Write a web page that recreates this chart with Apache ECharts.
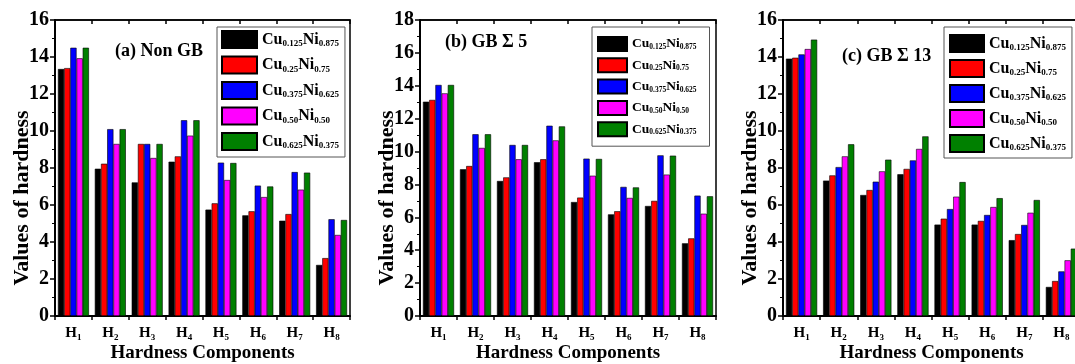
<!DOCTYPE html>
<html>
<head>
<meta charset="utf-8">
<script src="https://cdn.jsdelivr.net/npm/echarts@6/dist/echarts.min.js"></script>
<style>
  html, body { margin: 0; padding: 0; background: #fff; }
  #main { width: 1075px; height: 364px; }
</style>
</head>
<body>
<div id="main"></div>
<script>
// categories and alloys
const categories = ['H1', 'H2', 'H3', 'H4', 'H5', 'H6', 'H7', 'H8'];
const alloyNames = ['Cu0.125Ni0.875', 'Cu0.25Ni0.75', 'Cu0.375Ni0.625', 'Cu0.50Ni0.50', 'Cu0.625Ni0.375'];

// (a) Non GB
const nonGB_0125 = [13.35, 7.96, 7.22, 8.34, 5.75, 5.44, 5.15, 2.76];
const nonGB_025 = [13.4, 8.23, 9.3, 8.63, 6.09, 5.66, 5.51, 3.13];
const nonGB_0375 = [14.5, 10.1, 9.3, 10.58, 8.29, 7.05, 7.78, 5.23];
const nonGB_050 = [13.93, 9.3, 8.54, 9.75, 7.35, 6.43, 6.83, 4.38];
const nonGB_0625 = [14.5, 10.1, 9.3, 10.58, 8.27, 7.0, 7.75, 5.19];

// (b) GB sigma 5
const gb5_0125 = [13.03, 8.92, 8.21, 9.35, 6.93, 6.18, 6.69, 4.42];
const gb5_025 = [13.14, 9.12, 8.43, 9.53, 7.2, 6.37, 7.0, 4.72];
const gb5_0375 = [14.05, 11.05, 10.4, 11.57, 9.57, 7.85, 9.77, 7.32];
const gb5_050 = [13.54, 10.22, 9.53, 10.68, 8.53, 7.18, 8.6, 6.22];
const gb5_0625 = [14.05, 11.05, 10.4, 11.53, 9.55, 7.82, 9.75, 7.28];

// (c) GB sigma 13
const gb13_0125 = [13.91, 7.32, 6.54, 7.66, 4.94, 4.94, 4.1, 1.57];
const gb13_025 = [13.96, 7.6, 6.81, 7.95, 5.26, 5.14, 4.43, 1.89];
const gb13_0375 = [14.14, 8.05, 7.26, 8.41, 5.78, 5.46, 4.92, 2.41];
const gb13_050 = [14.43, 8.63, 7.82, 9.03, 6.45, 5.89, 5.58, 3.01];
const gb13_0625 = [14.94, 9.28, 8.45, 9.71, 7.24, 6.37, 6.27, 3.64];

const FONT = 'Liberation Serif';
const colors = ['#000000', '#ff0000', '#0000ff', '#ff00ff', '#008000'];

let panels = [
  {
    title: '(a) Non GB', titlePos: [115, 42],
    grid: { left: 55, top: 20, width: 295, bottom: 48 },
    max: 16,
    data: [nonGB_0125, nonGB_025, nonGB_0375, nonGB_050, nonGB_0625],
    legend: { left: 217, top: 27, padding: [3, 6, 6, 4], itemWidth: 35, itemHeight: 17, itemGap: 6.5, font: 16, sub: 9, lh: 18 }
  },
  {
    title: '(b) GB \u03A3 5', titlePos: [445, 33],
    grid: { left: 420, top: 20, width: 296, bottom: 48 },
    max: 18,
    data: [gb5_0125, gb5_025, gb5_0375, gb5_050, gb5_0625],
    legend: { left: 592, top: 27, padding: [9, 13, 9, 5], itemWidth: 29, itemHeight: 14, itemGap: 5.3, font: 13.5, sub: 7.5, lh: 14 }
  },
  {
    title: '(c) GB \u03A3 13', titlePos: [842, 47],
    grid: { left: 783, top: 20, width: 297, bottom: 48 },
    max: 16,
    data: [gb13_0125, gb13_025, gb13_0375, gb13_050, gb13_0625],
    legend: { left: 944, top: 27, padding: [7, 6, 5, 5], itemWidth: 34, itemHeight: 17, itemGap: 6, font: 16, sub: 9, lh: 18 }
  }
];

function subName(name) {
  return name.replace(/Cu([\d.]+)Ni([\d.]+)/, '{m|Cu}{s|$1}{m|Ni}{s|$2}');
}

let grids = [], xAxes = [], yAxes = [], series = [], legends = [], titles = [];

panels.forEach((p, i) => {
  grids.push(Object.assign({
    show: true, borderColor: '#000', borderWidth: 1.5, backgroundColor: 'transparent',
    containLabel: false, outerBoundsMode: 'none'
  }, p.grid));

  xAxes.push({
    type: 'category', gridIndex: i, data: categories, position: 'bottom',
    axisLine: { lineStyle: { color: '#000', width: 2 } },
    axisTick: { show: true, length: 4, lineStyle: { color: '#000', width: 1.5 } },
    axisLabel: {
      interval: 0, margin: 8, color: '#000',
      formatter: function (v) { return '{h|H}{s|' + v.slice(1) + '}'; },
      rich: {
        h: { fontSize: 15, fontWeight: 'bold', fontFamily: FONT, color: '#000', lineHeight: 18 },
        s: { fontSize: 9, fontWeight: 'bold', fontFamily: FONT, color: '#000', lineHeight: 9, verticalAlign: 'bottom' }
      }
    },
    name: 'Hardness Components', nameLocation: 'middle', nameGap: 28, nameMoveOverlap: false,
    nameTextStyle: { fontSize: 19, fontWeight: 'bold', fontFamily: FONT, color: '#000' }
  });
  xAxes.push({
    type: 'category', gridIndex: i, data: categories, position: 'top',
    axisLine: { lineStyle: { color: '#000', width: 1.5 } },
    axisTick: { show: true, inside: true, length: 4, lineStyle: { color: '#000', width: 1.5 } },
    axisLabel: { show: false }
  });

  yAxes.push({
    type: 'value', gridIndex: i, min: 0, max: p.max, interval: 2,
    splitLine: { show: false },
    axisLine: { show: true, lineStyle: { color: '#000', width: 2 } },
    axisTick: { show: true, length: 5, lineStyle: { color: '#000', width: 1.5 } },
    minorTick: { show: true, splitNumber: 2, length: 3, lineStyle: { color: '#000', width: 1 } },
    axisLabel: { margin: 6, color: '#000', fontSize: 20, fontWeight: 'bold', fontFamily: FONT },
    name: 'Values of hardness', nameLocation: 'middle', nameGap: 22, nameMoveOverlap: false,
    nameTextStyle: { fontSize: 22, fontWeight: 'bold', fontFamily: FONT, color: '#000', padding: [0, 60, 0, 0] }
  });

  p.data.forEach((arr, k) => {
    series.push({
      name: alloyNames[k], type: 'bar',
      xAxisIndex: i * 2, yAxisIndex: i,
      data: arr,
      barGap: '0%', barCategoryGap: '16%',
      itemStyle: { color: colors[k], borderColor: '#000', borderWidth: 0.6 }
    });
  });

  let L = p.legend;
  legends.push({
    orient: 'vertical', left: L.left, top: L.top, padding: L.padding,
    itemWidth: L.itemWidth, itemHeight: L.itemHeight, itemGap: L.itemGap,
    backgroundColor: '#fff', borderColor: '#555', borderWidth: 1,
    icon: 'rect', data: alloyNames, selectedMode: false,
    formatter: subName,
    textStyle: {
      color: '#000', fontFamily: FONT, fontWeight: 'bold',
      rich: {
        m: { fontSize: L.font, fontWeight: 'bold', fontFamily: FONT, color: '#000', lineHeight: L.lh },
        s: { fontSize: L.sub, fontWeight: 'bold', fontFamily: FONT, color: '#000', lineHeight: L.sub, verticalAlign: 'bottom' }
      }
    }
  });

  titles.push({
    text: p.title, left: p.titlePos[0], top: p.titlePos[1], padding: 0,
    textStyle: { fontSize: 18, fontWeight: 'bold', fontFamily: FONT, color: '#000' }
  });
});

let myChart = echarts.init(document.getElementById('main'), null, { renderer: 'canvas' });
myChart.setOption({
  animation: false,
  backgroundColor: '#fff',
  textStyle: { fontFamily: FONT },
  title: titles,
  legend: legends,
  grid: grids,
  xAxis: xAxes,
  yAxis: yAxes,
  series: series
});
</script>
</body>
</html>
